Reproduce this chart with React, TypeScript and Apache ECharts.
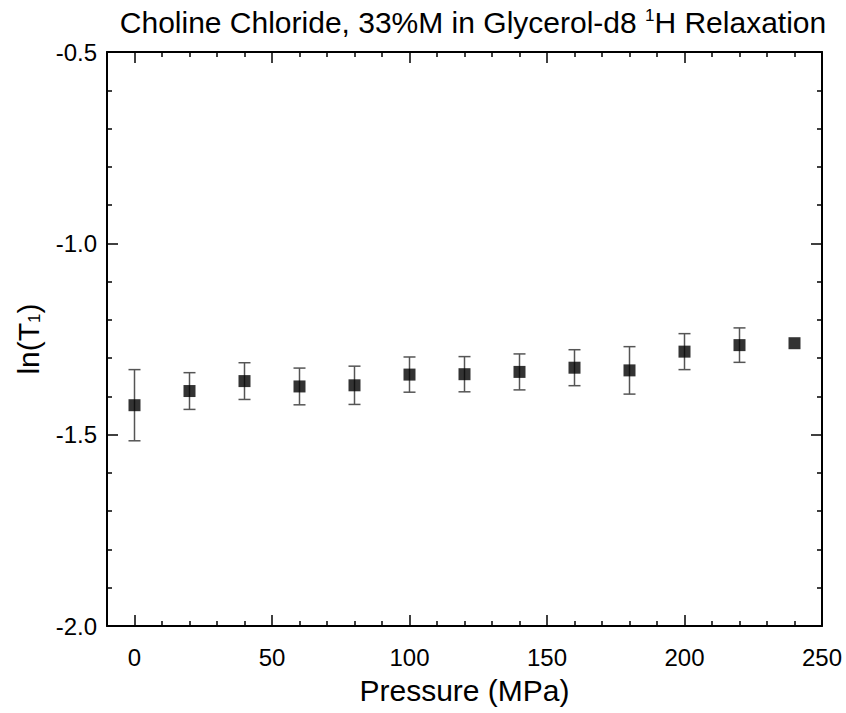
import React, { useEffect, useRef } from "react";
import * as echarts from "echarts";

const pressure = [0, 20, 40, 60, 80, 100, 120, 140, 160, 180, 200, 220, 240];
const lnT1 = [-1.423, -1.386, -1.36, -1.374, -1.371, -1.343, -1.342, -1.336, -1.325, -1.332, -1.283, -1.266, -1.261];
const lnT1Err = [0.093, 0.048, 0.048, 0.048, 0.05, 0.046, 0.046, 0.047, 0.047, 0.062, 0.047, 0.045, 0];

const titleText = "Choline Chloride, 33%M in Glycerol-d8 {sup|1}H Relaxation";
const xName = "Pressure (MPa)";
const yName = "ln(T{sub|1})";

const FONT = "'Liberation Sans', Arial, sans-serif";

export default function App() {
  const ref = useRef<HTMLDivElement>(null);
  useEffect(() => {
    document.body.style.margin = "0";
    if (!ref.current) return;
    const chart = echarts.init(ref.current, undefined, { renderer: "svg" });
    const axisLineStyle = { color: "#000", width: 2 };
    const tickStyle = { color: "#000", width: 1.5 };
    const commonX = {
      type: "value" as const,
      min: -10,
      max: 250,
      splitNumber: 5,
      splitLine: { show: false },
      axisLine: { show: true, onZero: false, lineStyle: axisLineStyle },
      axisTick: { show: true, inside: true, length: 11, lineStyle: tickStyle },
      minorTick: { show: true, splitNumber: 5, length: 5, lineStyle: tickStyle },
    };
    const commonY = {
      type: "value" as const,
      min: -2,
      max: -0.5,
      interval: 0.5,
      splitLine: { show: false },
      axisLine: { show: true, onZero: false, lineStyle: axisLineStyle },
      axisTick: { show: true, inside: true, length: 11, lineStyle: tickStyle },
      minorTick: { show: true, splitNumber: 5, length: 5, lineStyle: tickStyle },
    };
    chart.setOption({
      animation: false,
      backgroundColor: "#fff",
      title: {
        text: titleText,
        left: 468,
        top: 2,
        textAlign: "center",
        textStyle: {
          fontFamily: FONT,
          fontSize: 30,
          fontWeight: "normal",
          color: "#000",
          rich: {
            sup: { fontFamily: FONT, fontSize: 17, color: "#000", verticalAlign: "top" },
          },
        },
      },
      grid: { left: 107, top: 52, right: 24, bottom: 87, containLabel: false },
      xAxis: [
        {
          ...commonX,
          position: "bottom",
          name: xName,
          nameLocation: "middle",
          nameGap: 49,
          nameTextStyle: { fontFamily: FONT, fontSize: 30, color: "#000" },
          axisLabel: {
            show: true,
            margin: 19,
            fontFamily: FONT,
            fontSize: 24,
            color: "#000",
            formatter: (v: number) => (v < 0 ? "" : String(v)),
          },
        },
        { ...commonX, position: "top", axisLabel: { show: false } },
      ],
      yAxis: [
        {
          ...commonY,
          position: "left",
          name: yName,
          nameLocation: "middle",
          nameGap: 64,
          nameTextStyle: {
            fontFamily: FONT,
            fontSize: 30,
            color: "#000",
            rich: { sub: { fontFamily: FONT, fontSize: 17, color: "#000", verticalAlign: "bottom" } },
          },
          axisLabel: {
            show: true,
            margin: 10,
            fontFamily: FONT,
            fontSize: 24,
            color: "#000",
            formatter: (v: number) => v.toFixed(1),
          },
        },
        { ...commonY, position: "right", axisLabel: { show: false } },
      ],
      series: [
        {
          type: "custom",
          xAxisIndex: 0,
          yAxisIndex: 0,
          z: 1,
          encode: { x: 0, y: 1 },
          data: pressure.map((p, i) => [p, lnT1[i], lnT1Err[i]]),
          renderItem: (params: any, api: any) => {
            const x = api.value(0);
            const y = api.value(1);
            const e = api.value(2);
            if (!e) return { type: "group", children: [] };
            const top = api.coord([x, y + e]);
            const bot = api.coord([x, y - e]);
            const half = 6;
            const style = { stroke: "#555", lineWidth: 1.5 };
            return {
              type: "group",
              children: [
                { type: "line", shape: { x1: top[0], y1: top[1], x2: bot[0], y2: bot[1] }, style },
                { type: "line", shape: { x1: top[0] - half, y1: top[1], x2: top[0] + half, y2: top[1] }, style },
                { type: "line", shape: { x1: bot[0] - half, y1: bot[1], x2: bot[0] + half, y2: bot[1] }, style },
              ],
            };
          },
        },
        {
          type: "scatter",
          xAxisIndex: 0,
          yAxisIndex: 0,
          z: 2,
          symbol: "rect",
          symbolSize: 12,
          itemStyle: { color: "#000" },
          data: pressure.map((p, i) => [p, lnT1[i]]),
        },
      ],
    });
    return () => chart.dispose();
  }, []);
  return <div ref={ref} style={{ position: "absolute", left: 0, top: 0, width: 846, height: 713 }} />;
}
